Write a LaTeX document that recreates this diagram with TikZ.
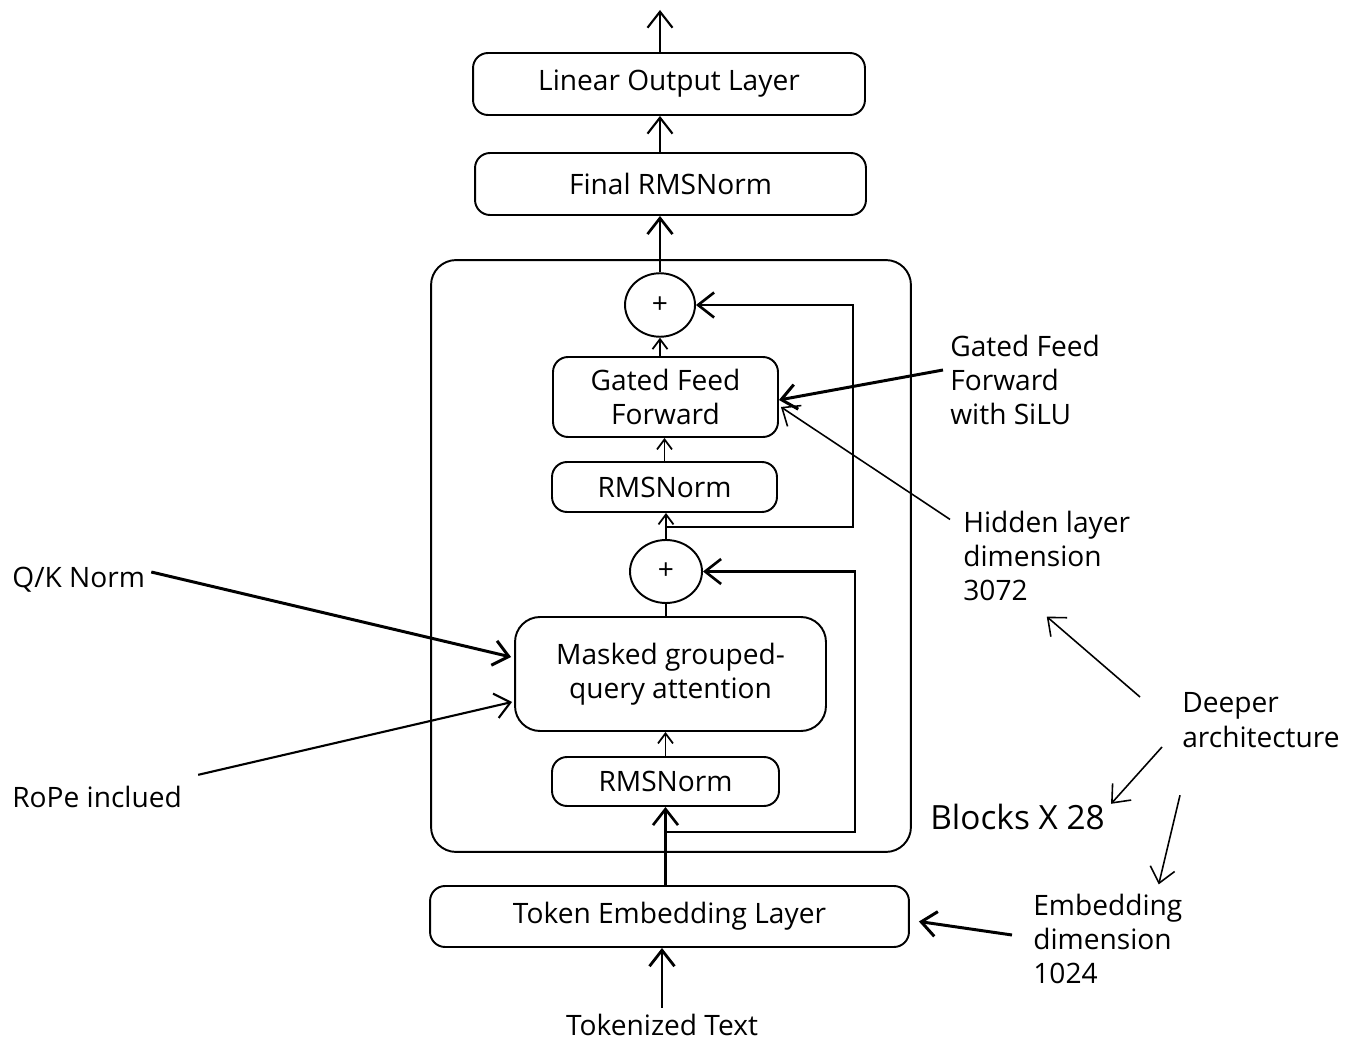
\documentclass[tikz,border=0pt]{standalone}
\usepackage{fontspec}
\setmainfont{Open Sans}
\usetikzlibrary{arrows.meta,shapes.geometric}
\tikzstyle{layerBox}=[draw,rounded corners=0.3cm,line width=1.1pt,inner sep=0pt,align=center,font=\fontsize{16}{19.6}\selectfont]
\tikzstyle{sumNode}=[draw,ellipse,line width=1.1pt,inner sep=0pt,minimum width=1.4cm,minimum height=1.27cm,font=\fontsize{16}{18}\selectfont]
\tikzstyle{noteText}=[inner sep=0pt,anchor=west,align=left,font=\fontsize{16}{19.6}\selectfont]
\tikzstyle{dataFlow}=[-{Straight Barb[length=0.32cm,width=0.5cm]}, line width=1.2pt]
\tikzstyle{smallFlow}=[-{Straight Barb[length=0.2cm,width=0.3cm]}, line width=1pt]
\tikzstyle{noteArrow}=[-{Straight Barb[length=0.3cm,width=0.5cm]}, line width=1.7pt]
\tikzstyle{thinArrow}=[-{Straight Barb[length=0.3cm,width=0.5cm]}, line width=0.9pt]
\tikzstyle{skipLine}=[line width=1.2pt]

\begin{document}
\begin{tikzpicture}[x=0.02cm,y=-0.02cm]
	\useasboundingbox (0,0) rectangle (1357,1054);

	\node[draw,rounded corners=0.5cm,line width=1.1pt,minimum width=9.6cm,minimum height=11.84cm] (blockFrame) at (671,556) {};

	\node[layerBox,minimum width=7.84cm,minimum height=1.24cm] (linOut) at (669,84) {Linear Output Layer};
	\node[layerBox,minimum width=7.82cm,minimum height=1.24cm] (finalNorm) at (670.5,184) {Final RMSNorm};
	\node[sumNode] (sumTop) at (660,305) {+};
	\node[layerBox,minimum width=4.5cm,minimum height=1.6cm] (gatedFF) at (665.5,397) {Gated Feed\\Forward};
	\node[layerBox,minimum width=4.5cm,minimum height=1.0cm] (normB) at (664.5,487) {RMSNorm};
	\node[sumNode,minimum width=1.44cm,minimum height=1.26cm] (sumLow) at (666,571.5) {+};
	\node[layerBox,rounded corners=0.5cm,minimum width=6.22cm,minimum height=2.28cm] (attn) at (670.5,674) {Masked grouped-\\query attention};
	\node[layerBox,minimum width=4.54cm,minimum height=0.98cm] (normA) at (665.5,781.5) {RMSNorm};
	\node[layerBox,minimum width=9.58cm,minimum height=1.22cm] (tokEmb) at (669.5,916.5) {Token Embedding Layer};
	\node[font=\fontsize{16}{19.6}\selectfont] (tokText) at (662,1025) {Tokenized Text};

	\node[noteText] (ffNote) at (950,380) {Gated Feed\\Forward\\with SiLU};
	\node[noteText] (hidNote) at (963,556) {Hidden layer\\dimension\\3072};
	\node[noteText] (qkNote) at (12,580) {Q/K Norm};
	\node[noteText] (ropeNote) at (12,797) {RoPe inclued};
	\node[noteText,font=\fontsize{19}{23}\selectfont] (blockNote) at (930,817) {Blocks X 28};
	\node[noteText] (deepNote) at (1182,720) {Deeper\\architecture};
	\node[noteText] (embNote) at (1033,939) {Embedding\\dimension\\1024};

	\coordinate (skipA) at (665.5,832);
	\coordinate (turnA) at (855,832);
	\coordinate (skipB) at (666,527);
	\coordinate (turnB) at (853,527);
	\coordinate (modelOut) at (660,10);

	\draw[dataFlow, line width=1.6pt] (tokText.north) -- (tokText.north |- tokEmb.south);
	\draw[dataFlow, line width=1.5pt] (normA.south |- tokEmb.north) -- (normA.south);
	\draw[dataFlow, line width=1.5pt] (skipA) -- (turnA) |- (sumLow.east);
	\draw[smallFlow] (normA.north) -- (normA.north |- attn.south);
	\draw[skipLine] (sumLow.south) -- (sumLow.south |- attn.north);
	\draw[smallFlow] (sumLow.north) -- (sumLow.north |- normB.south);
	\draw[dataFlow, line width=1.5pt] (skipB) -- (turnB) |- (sumTop.east);
	\draw[smallFlow] (normB.north) -- (normB.north |- gatedFF.south);
	\draw[smallFlow] (sumTop.south |- gatedFF.north) -- (sumTop.south);
	\draw[dataFlow, line width=1.5pt] (sumTop.north) -- (sumTop.north |- finalNorm.south);
	\draw[dataFlow] (sumTop.north |- finalNorm.north) -- (sumTop.north |- linOut.south);
	\draw[dataFlow] (sumTop.north |- linOut.north) -- (modelOut);

	\draw[noteArrow] ([xshift=-0.14cm,yshift=0.2cm]ffNote.west) -- ([yshift=-0.06cm]gatedFF.east);
	\draw[thinArrow] ([xshift=-0.26cm,yshift=-0.18cm]hidNote.north west) -- ([xshift=0.04cm,yshift=-0.2cm]gatedFF.east);
	\draw[noteArrow] ([xshift=0.12cm,yshift=0.16cm]qkNote.east) -- ([xshift=-0.06cm,yshift=0.34cm]attn.west);
	\draw[thinArrow, line width=1.2pt] ([xshift=0.32cm,yshift=0.22cm]ropeNote.north east) -- ([xshift=-0.04cm,yshift=-0.56cm]attn.west);
	\draw[thinArrow] ([xshift=-0.84cm,yshift=0.46cm]deepNote.west) -- ([yshift=-0.3cm]hidNote.south);
	\draw[thinArrow] ([xshift=-0.4cm,yshift=-0.54cm]deepNote.west) -- ([xshift=0.12cm]blockNote.north east);
	\draw[thinArrow] ([xshift=-0.04cm,yshift=-0.95cm]deepNote.south west) -- ([xshift=-0.48cm,yshift=0.18cm]embNote.north east);
	\draw[noteArrow] ([xshift=-0.42cm,yshift=0.08cm]embNote.west) -- ([xshift=0.18cm,yshift=-0.1cm]tokEmb.east);
\end{tikzpicture}
\end{document}
